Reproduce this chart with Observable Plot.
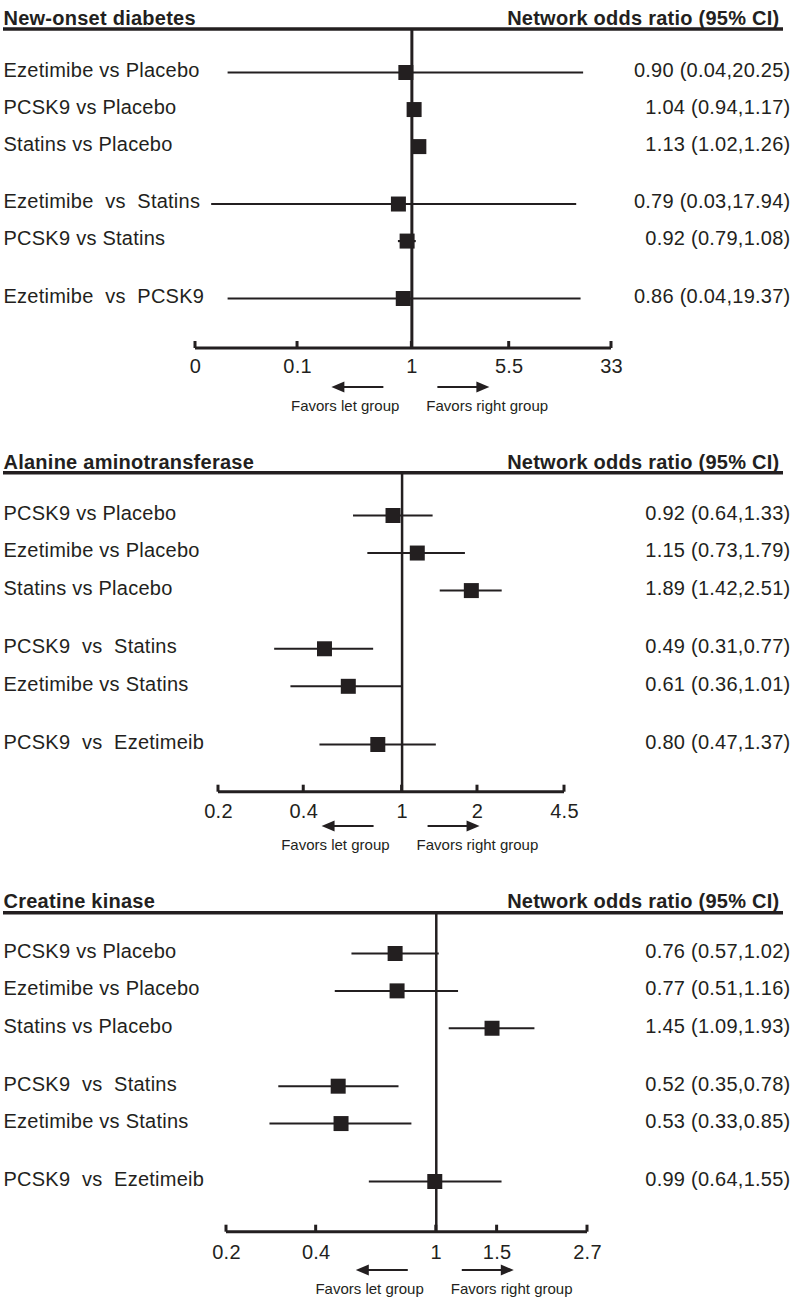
<!DOCTYPE html>
<html>
<head>
<meta charset="utf-8">
<script src="https://cdn.jsdelivr.net/npm/d3@7"></script>
<script src="https://cdn.jsdelivr.net/npm/@observablehq/plot@0.6"></script>
<style>
  html, body { margin: 0; padding: 0; background: #fff; }
  #chart svg { display: block; }
  #chart text { white-space: pre; }
  #chart g[aria-label="text"] text { letter-spacing: 0.25px; }
</style>
</head>
<body>
<div id="chart"></div>
<script>
// ---------- data ----------
const groupOfRow = [0, 0, 0, 1, 1, 2];
const oddsTitle = "Network odds ratio (95% CI)";
const favorsLeft = "Favors let group";
const favorsRight = "Favors right group";

// Panel 1: New-onset diabetes
const diabetesTitle = "New-onset diabetes";
const diabetesLabels = ["Ezetimibe vs Placebo", "PCSK9 vs Placebo", "Statins vs Placebo",
  "Ezetimibe  vs  Statins", "PCSK9 vs Statins", "Ezetimibe  vs  PCSK9"];
const diabetesOR = [0.90, 1.04, 1.13, 0.79, 0.92, 0.86];
const diabetesLow = [0.04, 0.94, 1.02, 0.03, 0.79, 0.04];
const diabetesHigh = [20.25, 1.17, 1.26, 17.94, 1.08, 19.37];
const diabetesTicks = [0.0226, 0.135, 1, 5.5, 33];
const diabetesTickLabels = ["0", "0.1", "1", "5.5", "33"];

// Panel 2: Alanine aminotransferase
const altTitle = "Alanine aminotransferase";
const altLabels = ["PCSK9 vs Placebo", "Ezetimibe vs Placebo", "Statins vs Placebo",
  "PCSK9  vs  Statins", "Ezetimibe vs Statins", "PCSK9  vs  Ezetimeib"];
const altOR = [0.92, 1.15, 1.89, 0.49, 0.61, 0.80];
const altLow = [0.64, 0.73, 1.42, 0.31, 0.36, 0.47];
const altHigh = [1.33, 1.79, 2.51, 0.77, 1.01, 1.37];
const altTicks = [0.185, 0.405, 1, 2, 4.45];
const altTickLabels = ["0.2", "0.4", "1", "2", "4.5"];

// Panel 3: Creatine kinase
const ckTitle = "Creatine kinase";
const ckLabels = ["PCSK9 vs Placebo", "Ezetimibe vs Placebo", "Statins vs Placebo",
  "PCSK9  vs  Statins", "Ezetimibe vs Statins", "PCSK9  vs  Ezetimeib"];
const ckOR = [0.76, 0.77, 1.45, 0.52, 0.53, 0.99];
const ckLow = [0.57, 0.51, 1.09, 0.35, 0.33, 0.64];
const ckHigh = [1.02, 1.16, 1.93, 0.78, 0.85, 1.55];
const ckTicks = [0.247, 0.449, 1, 1.5, 2.74];
const ckTickLabels = ["0.2", "0.4", "1", "1.5", "2.7"];

// ---------- drawing ----------
const ink = "#231f20";
const FONT = "'Liberation Sans', Arial, Helvetica, sans-serif";
const W = 800;

function decor(L, ticks) {
  return (index, scales, values, dim) => {
    const x = scales.x;
    const top = dim.marginTop;
    const base = dim.height - dim.marginBottom;
    const g = d3.create("svg:g");
    // heavy rule under the header
    g.append("line").attr("x1", 3).attr("x2", 783).attr("y1", top).attr("y2", top)
      .attr("stroke", ink).attr("stroke-width", 3.5);
    // axis baseline and ticks
    g.append("line").attr("x1", x(ticks[0])).attr("x2", x(ticks[ticks.length - 1]))
      .attr("y1", base).attr("y2", base).attr("stroke", ink).attr("stroke-width", 3);
    for (const t of ticks) {
      g.append("line").attr("x1", x(t)).attr("x2", x(t)).attr("y1", base).attr("y2", base - 7)
        .attr("stroke", ink).attr("stroke-width", 3);
    }
    // direction arrows
    const c = x(1), ay = L.arrow;
    g.append("line").attr("x1", c - 28).attr("x2", c - 68).attr("y1", ay).attr("y2", ay)
      .attr("stroke", ink).attr("stroke-width", 1.8);
    g.append("path").attr("d", `M${c - 80},${ay}L${c - 67},${ay - 5.5}L${c - 67},${ay + 5.5}Z`).attr("fill", ink);
    g.append("line").attr("x1", c + 26).attr("x2", c + 66).attr("y1", ay).attr("y2", ay)
      .attr("stroke", ink).attr("stroke-width", 1.8);
    g.append("path").attr("d", `M${c + 78},${ay}L${c + 65},${ay - 5.5}L${c + 65},${ay + 5.5}Z`).attr("fill", ink);
    g.append("text").attr("x", c - 12).attr("y", L.favors).attr("dy", "0.35em")
      .attr("text-anchor", "end").attr("font-size", 15).attr("fill", ink).text(favorsLeft);
    g.append("text").attr("x", c + 15).attr("y", L.favors).attr("dy", "0.35em")
      .attr("text-anchor", "start").attr("font-size", 15).attr("fill", ink).text(favorsRight);
    return g.node();
  };
}

function panel(title, labels, or, lo, hi, ticks, tickLabels, L) {
  const pos = groupOfRow.map((g, i) => i + g * 0.55);
  const rows = labels.map((label, i) => ({
    label, or: or[i], lo: lo[i], hi: hi[i], pos: pos[i],
    text: `${or[i].toFixed(2)} (${lo[i].toFixed(2)},${hi[i].toFixed(2)})`
  }));
  const tickRows = ticks.map((t, i) => ({ t, label: tickLabels[i] }));
  const mL = L.left, mR = L.right;
  return Plot.plot({
    width: W,
    height: L.height,
    marginLeft: mL,
    marginRight: mR,
    marginTop: L.rule,
    marginBottom: L.height - L.axis,
    style: { fontFamily: FONT, color: ink, background: "white", overflow: "visible" },
    x: { type: "log", domain: [ticks[0], ticks[ticks.length - 1]], label: null, axis: null },
    y: { domain: [0, d3.max(pos)], range: [L.row0, L.rowN], axis: null },
    marks: [
      decor(L, ticks),
      Plot.ruleX([1], { stroke: ink, strokeWidth: L.vw }),
      Plot.ruleY(rows, { x1: "lo", x2: "hi", y: "pos", stroke: ink, strokeWidth: L.ciw }),
      Plot.dot(rows, { x: "or", y: "pos", symbol: "square", r: 8.46, fill: ink, stroke: "none" }),
      Plot.text(rows, { y: "pos", text: "label", frameAnchor: "left", textAnchor: "start",
        dx: 3 - mL, dy: -2, fontSize: 20, fill: ink }),
      Plot.text(rows, { y: "pos", text: "text", frameAnchor: "right", textAnchor: "end",
        dx: 790 - (W - mR), dy: -2, fontSize: 20, fill: ink }),
      Plot.text([title], { text: d => d, frameAnchor: "top-left", textAnchor: "start",
        dx: 3 - mL, dy: L.title - L.rule, fontSize: 20, fontWeight: "bold", fill: ink }),
      Plot.text([oddsTitle], { text: d => d, frameAnchor: "top-right", textAnchor: "end",
        dx: 779 - (W - mR), dy: L.title - L.rule, fontSize: 20, fontWeight: "bold", fill: ink }),
      Plot.text(tickRows, { x: "t", text: "label", frameAnchor: "bottom", lineAnchor: "top",
        dy: L.tp, fontSize: 20, fill: ink })
    ]
  });
}

const chart = document.getElementById("chart");
chart.append(panel(diabetesTitle, diabetesLabels, diabetesOR, diabetesLow, diabetesHigh,
  diabetesTicks, diabetesTickLabels,
  { height: 432, rule: 29, axis: 348, row0: 72, rowN: 298, title: 10.4, arrow: 387, favors: 406,
    left: 195, right: 189, tp: 10.5, vw: 3, ciw: 2.2 }));
chart.append(panel(altTitle, altLabels, altOR, altLow, altHigh, altTicks, altTickLabels,
  { height: 438, rule: 40.7, axis: 359.7, row0: 83, rowN: 312, title: 22.7, arrow: 394, favors: 412.5,
    left: 218, right: 236, tp: 12, vw: 2.5, ciw: 2 }));
chart.append(panel(ckTitle, ckLabels, ckOR, ckLow, ckHigh, ckTicks, ckTickLabels,
  { height: 428, rule: 42.7, axis: 361.7, row0: 83, rowN: 311, title: 23.7, arrow: 400, favors: 419,
    left: 226, right: 213, tp: 12.5, vw: 2.5, ciw: 2 }));
</script>
</body>
</html>
